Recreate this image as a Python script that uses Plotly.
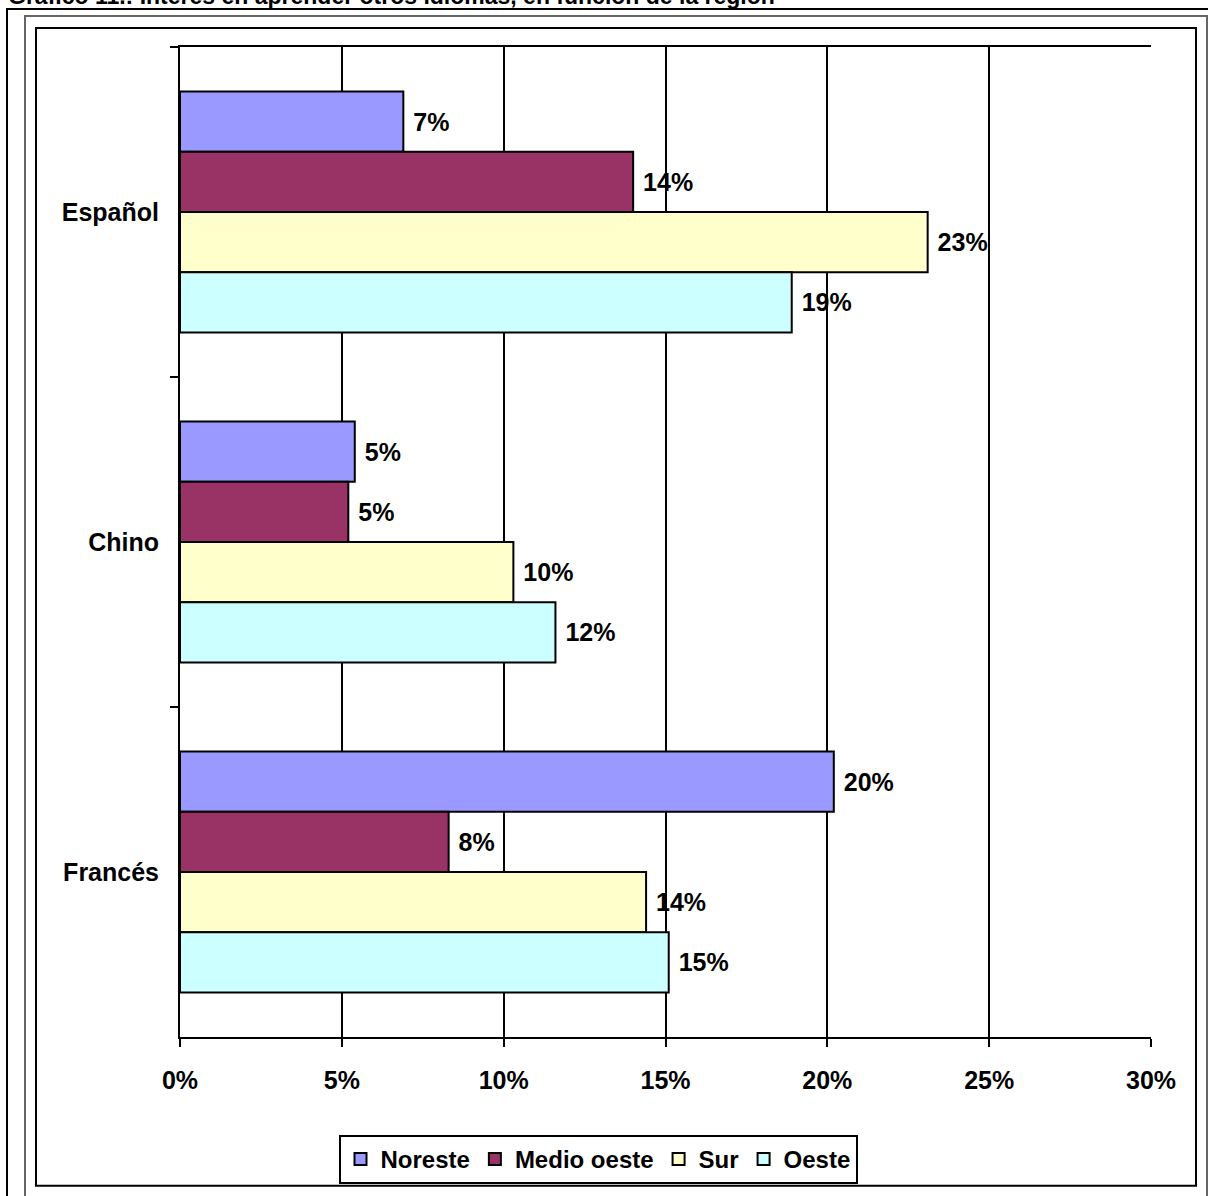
import plotly.graph_objects as go

# Data (percent)
idiomas = ["Español", "Chino", "Francés"]
regiones = ["Noreste", "Medio oeste", "Sur", "Oeste"]
noreste = [6.9, 5.4, 20.2]
medio_oeste = [14.0, 5.2, 8.3]
sur = [23.1, 10.3, 14.4]
oeste = [18.9, 11.6, 15.1]
x_ticks = [0, 5, 10, 15, 20, 25, 30]

COLORS = {
    "Noreste": "#9999FF",
    "Medio oeste": "#993366",
    "Sur": "#FFFFCC",
    "Oeste": "#CCFFFF",
}
FONT = "Liberation Sans, Arial, sans-serif"
FS = 25

W, H = 1208, 1196
L, R, T, B = 180, 1151, 47, 1039  # plot area in pixels


def px(x):
    return (x - L) / (R - L)


def py(y):
    return (B - y) / (B - T)


fig = go.Figure()
for name, vals in zip(regiones, [noreste, medio_oeste, sur, oeste]):
    fig.add_trace(go.Bar(
        y=idiomas,
        x=vals,
        orientation="h",
        name=name,
        marker=dict(color=COLORS[name], line=dict(color="black", width=2)),
        text=[f"\u00a0{v:.0f}%" for v in vals],
        textposition="outside",
        textfont=dict(family=FONT, size=FS, color="black", weight="bold"),
        cliponaxis=False,
    ))

# frames around the chart
frames = [
    (7, 9, 1230, 1230, "black", 2),
    (25, 16, 1207, 1230, "#666666", 2),
    (36, 28, 1196, 1188, "black", 2),
]
for x0, y0, x1, y1, col, w in frames:
    fig.add_shape(type="rect", xref="paper", yref="paper",
                  x0=px(x0), x1=px(x1), y0=py(y1), y1=py(y0),
                  line=dict(color=col, width=w), fillcolor="rgba(0,0,0,0)",
                  layer="below")

fig.add_annotation(
    text="Gráfico 11.: Interés en aprender otros idiomas, en función de la región",
    xref="paper", yref="paper", x=px(6), y=py(11), xanchor="left", yanchor="bottom",
    showarrow=False, font=dict(family=FONT, size=23, color="black", weight="bold"),
)

fig.update_layout(
    width=W, height=H,
    paper_bgcolor="white", plot_bgcolor="white",
    margin=dict(l=L, r=W - R, t=T, b=H - B, pad=0),
    barmode="group", bargap=0.27, bargroupgap=0,
    font=dict(family=FONT, size=FS, color="black", weight="bold"),
    showlegend=True,
    legend=dict(
        orientation="h", x=px(598), y=py(1137), xanchor="center", yanchor="top",
        bgcolor="white", bordercolor="black", borderwidth=2,
        font=dict(family=FONT, size=24, color="black", weight="bold"),
        traceorder="normal",
    ),
    xaxis=dict(
        range=[0, 30], tickvals=x_ticks, ticktext=[f"{t}%" for t in x_ticks],
        showgrid=True, gridcolor="black", gridwidth=2, zeroline=False,
        showline=True, linecolor="black", linewidth=2, mirror=True,
        ticks="outside", ticklen=8, tickwidth=2, tickcolor="black",
        ticklabelstandoff=12,
    ),
    yaxis=dict(
        autorange="reversed", tickson="boundaries",
        showgrid=False, zeroline=False,
        showline=True, linecolor="black", linewidth=2,
        ticks="outside", ticklen=8, tickwidth=2, tickcolor="black",
        ticklabelstandoff=14,
    ),
)

fig.write_html("out.html", config={"displayModeBar": False},
               post_script="document.body.style.margin='0px';")
